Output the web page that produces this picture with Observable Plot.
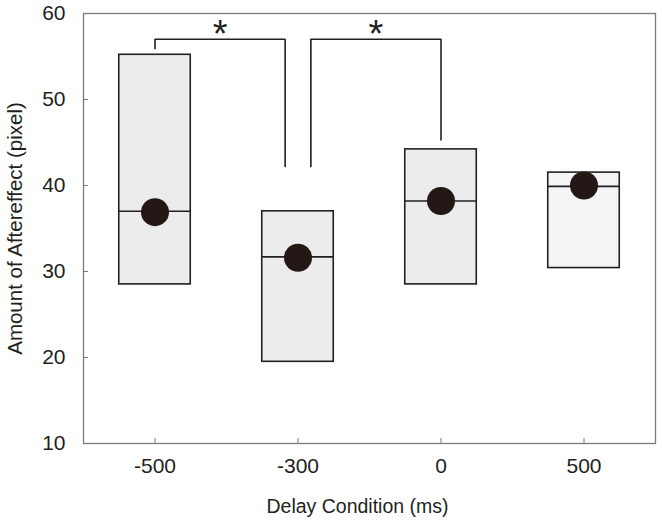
<!DOCTYPE html>
<html><head><meta charset="utf-8">
<script src="https://cdn.jsdelivr.net/npm/d3@7"></script>
<script src="https://cdn.jsdelivr.net/npm/@observablehq/plot@0.6"></script>
<style>body{margin:0;background:#fff} svg{display:block}</style>
</head><body><div id="chart"></div>
<script>
// ---- data ----
const categories = ["-500", "-300", "0", "500"];
const q1 = [28.5, 19.5, 28.5, 30.4];
const q3 = [55.2, 37.0, 44.2, 41.5];
const medians = [37.0, 31.7, 38.2, 39.9];
const means = [36.9, 31.6, 38.2, 40.0];
const yTicks = [10, 20, 30, 40, 50, 60];
const bracketFrom = ["-500", "-300"];
const bracketTo = ["-300", "0"];
const bracketTop = [57.0, 57.0];
const bracketFromEnd = [55.9, 42.2];
const bracketToEnd = [42.2, 45.3];
const bracketLabels = ["*", "*"];
const xLabel = "Delay Condition (ms)";
const yLabel = "Amount of Aftereffect (pixel)";

// ---- styles ----
const boxFill = ["#ececec", "#ececec", "#ececec", "#f4f4f4"];
const ink = "#231f20";
const axisGray = "#7a7a7a";
const halfBox = 0.25;      // half box width, in category units
const legGap = 0.09;       // bracket legs offset around a shared category
const fromShift = [0, 1];
const toShift = [-1, 0];
const font = "'Liberation Sans', Arial, Helvetica, sans-serif";

const idx = c => categories.indexOf(c);
const boxes = categories.map((c, i) => ({
  c, i, q1: q1[i], q3: q3[i], med: medians[i], mean: means[i], fill: boxFill[i]
}));
const bracketPts = [];
const bracketText = [];
bracketFrom.forEach((f, k) => {
  const xa = idx(f) + fromShift[k] * legGap;
  const xb = idx(bracketTo[k]) + toShift[k] * legGap;
  bracketPts.push(
    {k, x: xa, y: bracketFromEnd[k]},
    {k, x: xa, y: bracketTop[k]},
    {k, x: xb, y: bracketTop[k]},
    {k, x: xb, y: bracketToEnd[k]}
  );
  bracketText.push({x: (xa + xb) / 2, y: bracketTop[k], t: bracketLabels[k]});
});

const chart = Plot.plot({
  width: 662,
  height: 523,
  marginLeft: 83,
  marginRight: 7,
  marginTop: 13,
  marginBottom: 80,
  style: {fontFamily: font, background: "#fff"},
  x: {type: "linear", domain: [-0.5, categories.length - 0.5]},
  y: {domain: [10, 60]},
  marks: [
    Plot.rect(boxes, {
      x1: d => d.i - halfBox, x2: d => d.i + halfBox,
      y1: "q1", y2: "q3",
      fill: d => d.fill, stroke: ink, strokeWidth: 1.6
    }),
    Plot.ruleY(boxes, {
      y: "med", x1: d => d.i - halfBox, x2: d => d.i + halfBox,
      stroke: ink, strokeWidth: 1.6
    }),
    Plot.dot(boxes, {x: "i", y: "mean", r: 14, fill: "#231815", stroke: "none"}),
    Plot.line(bracketPts, {x: "x", y: "y", z: "k", stroke: ink, strokeWidth: 1.6, curve: "linear"}),
    Plot.text(bracketText, {
      x: "x", y: "y", text: "t", fontSize: 38, fill: ink, dy: -4.5,
      lineAnchor: "middle", fontFamily: "'Liberation Sans', Arial, sans-serif"
    }),
    Plot.frame({stroke: axisGray, strokeWidth: 1.3}),
    Plot.axisY({
      ticks: yTicks, tickSize: -5, tickPadding: 23, stroke: axisGray,
      fontSize: 21, color: ink, label: null
    }),
    Plot.axisX({
      ticks: categories.map((c, i) => i), tickFormat: i => categories[i],
      tickSize: -5, tickPadding: 20, stroke: axisGray,
      fontSize: 21, color: ink, label: null
    }),
    Plot.text([xLabel], {
      frameAnchor: "bottom", dy: 63, dx: -12, fontSize: 19.5, fill: ink,
      lineAnchor: "middle", textAnchor: "middle"
    }),
    Plot.text([yLabel], {
      frameAnchor: "left", dx: -68, rotate: -90, fontSize: 20.5, fill: ink,
      lineAnchor: "middle", textAnchor: "middle"
    })
  ]
});
document.getElementById("chart").appendChild(chart);
</script>
</body></html>
